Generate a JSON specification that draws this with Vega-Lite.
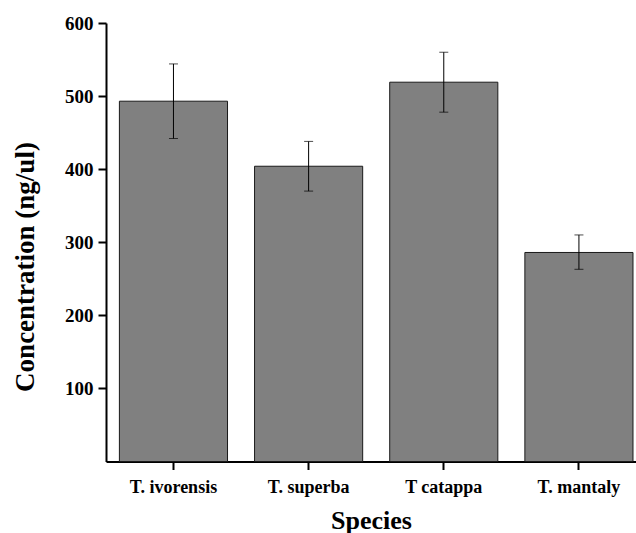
{
  "$schema": "https://vega.github.io/schema/vega-lite/v6.json",
  "width": 530,
  "height": 438.5,
  "autosize": {"type": "none"},
  "padding": {"left": 106, "top": 23, "right": 0, "bottom": 71.5},
  "background": "white",
  "config": {"view": {"stroke": null}, "font": "Liberation Serif"},
  "data": {
    "values": [
      {"species": "T. ivorensis", "mean": 493, "low": 442, "high": 544},
      {"species": "T. superba", "mean": 404, "low": 370, "high": 438},
      {"species": "T catappa", "mean": 519, "low": 478, "high": 560},
      {"species": "T. mantaly", "mean": 286, "low": 263, "high": 310}
    ]
  },
  "encoding": {
    "x": {
      "field": "species",
      "type": "nominal",
      "sort": null,
      "scale": {"paddingInner": 0.2, "paddingOuter": 0.0607, "align": 0.817},
      "axis": {
        "title": "Species",
        "titleFont": "Liberation Serif",
        "titleFontSize": 26,
        "titleFontWeight": "bold",
        "titleColor": "black",
        "titleBaseline": "alphabetic",
        "titleY": 66.5,
        "labelAngle": 0,
        "labelFont": "Liberation Serif",
        "labelFontSize": 18,
        "labelFontWeight": "bold",
        "labelColor": "black",
        "labelPadding": 9,
        "tickSize": 8,
        "tickWidth": 2,
        "tickColor": "black",
        "domainColor": "black",
        "domainWidth": 2
      }
    }
  },
  "layer": [
    {
      "mark": {"type": "bar", "fill": "#808080", "stroke": "#1a1a1a", "strokeWidth": 1},
      "encoding": {
        "y": {
          "field": "mean",
          "type": "quantitative",
          "title": "Concentration (ng/ul)",
          "scale": {"domain": [0, 600], "nice": false},
          "axis": {
            "values": [100, 200, 300, 400, 500, 600],
            "labelOverlap": false,
            "grid": false,
            "titleFont": "Liberation Serif",
            "titleFontSize": 27,
            "titleFontWeight": "bold",
            "titleColor": "black",
            "titleBaseline": "middle",
            "titleX": -81,
            "titleY": 243.5,
            "labelFont": "Liberation Serif",
            "labelFontSize": 19,
            "labelFontWeight": "bold",
            "labelColor": "black",
            "labelPadding": 5,
            "tickSize": 8,
            "tickWidth": 2,
            "tickColor": "black",
            "domainColor": "black",
            "domainWidth": 2
          }
        }
      }
    },
    {
      "mark": {"type": "errorbar", "color": "black", "thickness": 1, "ticks": {"size": 9, "color": "black", "thickness": 1}},
      "encoding": {
        "y": {"field": "low", "type": "quantitative", "title": "Concentration (ng/ul)"},
        "y2": {"field": "high"}
      }
    }
  ]
}
